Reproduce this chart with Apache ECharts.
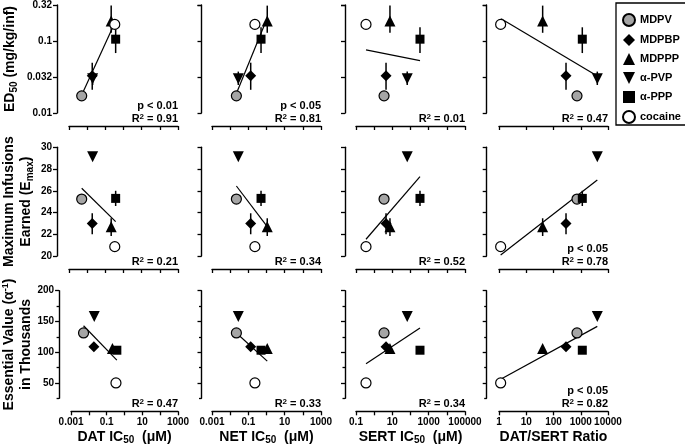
<!DOCTYPE html>
<html><head><meta charset="utf-8">
<script src="https://cdn.jsdelivr.net/npm/echarts@6/dist/echarts.min.js"></script>
<style>html,body{margin:0;padding:0;background:#fff}#c{width:685px;height:447px}</style>
</head><body><div id="c"></div>
<script>
// ---------- data ----------
const compounds = ['MDPV', 'MDPBP', 'MDPPP', 'α-PVP', 'α-PPP', 'cocaine'];
const datIC50 = [0.005, 0.019, 0.21, 0.020, 0.37, 0.33];
const netIC50 = [0.022, 0.135, 1.1, 0.028, 0.5, 0.23];
const sertIC50 = [3.5, 4.5, 7.4, 66, 333, 0.355];
const datSertRatio = [728, 288, 40, 4050, 1140, 1.15];

const ed50 = [0.0173, 0.033, 0.19, 0.030, 0.106, 0.17];
const ed50Low = [null, 0.021, 0.13, 0.0245, 0.068, null];
const ed50High = [null, 0.050, 0.31, 0.0376, 0.155, null];

const emax = [25.24, 23.0, 22.7, 29.13, 25.3, 20.86];
const emaxLow = [null, 22.0, 21.84, null, 24.6, null];
const emaxHigh = [null, 23.93, 23.47, null, 26.0, null];

const essentialValue = [131.3, 108.7, 106, 158, 103.2, 50];

// regression line end points [x1, y1, x2, y2] per column
const fitED50 = [[0.005, 0.0178, 0.37, 0.19], [0.022, 0.0187, 1.1, 0.208], [0.355, 0.0754, 333, 0.0535], [1.2, 0.204, 4050, 0.0327]];
const fitEmax = [[0.005, 26.23, 0.37, 23.16], [0.022, 26.44, 1.1, 22.7], [0.355, 21.54, 333, 27.3], [1.15, 20.09, 4050, 27.0]];
const fitEV = [[0.005, 143, 0.37, 87.1], [0.022, 131.3, 1.1, 85.5], [0.355, 81.3, 333, 139.4], [1.15, 56, 4050, 142]];

const statsED50 = [['p < 0.01', 'R² = 0.91'], ['p < 0.05', 'R² = 0.81'], ['', 'R² = 0.01'], ['', 'R² = 0.47']];
const statsEmax = [['', 'R² = 0.21'], ['', 'R² = 0.34'], ['', 'R² = 0.52'], ['p < 0.05', 'R² = 0.78']];
const statsEV = [['', 'R² = 0.47'], ['', 'R² = 0.33'], ['', 'R² = 0.34'], ['p < 0.05', 'R² = 0.82']];

// tick labels
const ed50Ticks = ['0.01', '0.032', '0.1', '0.32'];
const emaxTicks = ['20', '22', '24', '26', '28', '30'];
const evTicks = ['50', '100', '150', '200'];
const evMinorTicks = ['25', '75', '125', '175'];
const datTicks = ['0.001', '0.1', '10', '1000'];
const netTicks = ['0.001', '0.1', '10', '1000'];
const sertTicks = ['0.1', '10', '1000', '100000'];
const ratioTicks = ['1', '10', '100', '1000', '10000'];

// ---------- layout / style ----------
const F = '"Liberation Sans", Arial, sans-serif';
const colLeft = [69, 212, 356, 499], colW = 109;
const rowTop = [5, 147.3, 290.7], rowH = [108, 108.7, 107.6];
const yOff = [12, 10.5, 11, 12.3];
const xOff = 13;
const symbols = ['circle', 'diamond', 'triangle', 'path://M0,0L10,0L5,10Z', 'rect', 'circle'];
const fills = ['#a5a5a5', '#000', '#000', '#000', '#000', '#fff'];
const sizes = [10, 11, 11, 11, 9, 10];

const xCols = [datIC50, netIC50, sertIC50, datSertRatio];
const xRanges = [[0.001, 1000], [0.001, 1000], [0.1, 100000], [1, 10000]];
const xTickLists = [datTicks, netTicks, sertTicks, ratioTicks];
const xNames = ['{t|DAT IC}{s|50}{t|  (μM)}', '{t|NET IC}{s|50}{t|  (μM)}', '{t|SERT IC}{s|50}{t|  (μM)}', '{t|DAT/SERT Ratio}'];
const yNames = ['{t|ED}{s|50}{t| (mg/kg/inf)}', '{t|Maximum Infusions}\n{t|Earned (E}{s|max}{t|)}', '{t|Essential Value (α}{p|-1}{t|)}\n{t|in Thousands}'];
const yNameGaps = [38, 22, 23];

const RICH = {
  t: {fontFamily: F, fontWeight: 'bold', fontSize: 14, lineHeight: 17, color: '#000'},
  s: {fontFamily: F, fontWeight: 'bold', fontSize: 10, lineHeight: 10, verticalAlign: 'bottom', color: '#000'},
  p: {fontFamily: F, fontWeight: 'bold', fontSize: 9, lineHeight: 9, verticalAlign: 'top', color: '#000'}
};
const STAT_RICH = {
  m: {fontFamily: F, fontWeight: 'bold', fontSize: 11, lineHeight: 13, color: '#000'},
  sup: {fontFamily: F, fontWeight: 'bold', fontSize: 8, lineHeight: 8, verticalAlign: 'top', color: '#000'}
};
function statRich(s) {
  const parts = s.split('²');
  return parts.length === 2 ? '{m|' + parts[0] + '}{sup|2}{m|' + parts[1] + '}' : '{m|' + s + '}';
}

function pickLog(list, v) {
  for (const s of list) {
    if (Math.abs(Math.log10(parseFloat(s)) - Math.log10(v)) < 0.03) return s;
  }
  return '';
}
function pickLin(list, v) {
  for (const s of list) { if (Math.abs(parseFloat(s) - v) < 1e-6) return s; }
  return '';
}

const rowDefs = [
  {vals: ed50, lo: ed50Low, hi: ed50High, fits: fitED50, stats: statsED50},
  {vals: emax, lo: emaxLow, hi: emaxHigh, fits: fitEmax, stats: statsEmax},
  {vals: essentialValue, lo: null, hi: null, fits: fitEV, stats: statsEV}
];

const axisLine = {show: true, lineStyle: {color: '#000', width: 1.4}};
const labelStyle = {fontFamily: F, fontWeight: 'bold', fontSize: 10, color: '#000'};

const option = {
  animation: false,
  backgroundColor: '#fff',
  textStyle: {fontFamily: F},
  grid: [], xAxis: [], yAxis: [], series: [], graphic: [],
  legend: {
    orient: 'vertical', left: 616, top: 3, padding: [10, 6, 1, 6], itemGap: 7,
    itemWidth: 12, itemHeight: 12, borderColor: '#000', borderWidth: 1.3,
    selectedMode: false,
    textStyle: {fontFamily: F, fontWeight: 'bold', fontSize: 11, color: '#000'},
    data: compounds.map((n, i) => ({name: n, icon: symbols[i]}))
  }
};

for (let r = 0; r < 3; r++) {
  const rd = rowDefs[r];
  const xAxisY = rowTop[r] + rowH[r] + xOff;
  for (let c = 0; c < 4; c++) {
    const g = r * 4 + c;
    option.grid.push({left: colLeft[c], top: rowTop[r], width: colW, height: rowH[r]});
    option.xAxis.push({
      gridIndex: g, type: 'log', logBase: 10, min: xRanges[c][0], max: xRanges[c][1],
      splitNumber: 10, offset: xOff,
      axisLine: axisLine, axisTick: {show: true, length: 4, lineStyle: {color: '#000', width: 1.3}},
      axisLabel: {show: r === 2, margin: 6, ...labelStyle, showMinLabel: true, showMaxLabel: true,
        formatter: (v) => pickLog(xTickLists[c], v)},
      splitLine: {show: false},
      name: r === 2 ? xNames[c] : '', nameLocation: 'middle', nameGap: 17,
      nameTextStyle: {rich: RICH}
    });
    let ya = {
      gridIndex: g, position: 'left', offset: yOff[c], axisLine: axisLine,
      axisTick: {show: true, length: 4, lineStyle: {color: '#000', width: 1.3}},
      splitLine: {show: false},
      name: c === 0 ? yNames[r] : '', nameLocation: 'middle', nameRotate: 90, nameGap: yNameGaps[r],
      nameTextStyle: {rich: RICH}
    };
    if (r === 0) {
      Object.assign(ya, {type: 'log', logBase: Math.sqrt(10), min: 0.01, max: Math.pow(10, -0.5), splitNumber: 10,
        axisLabel: {show: c === 0, margin: 5, ...labelStyle, formatter: (v) => pickLog(ed50Ticks, v)}});
    } else if (r === 1) {
      Object.assign(ya, {type: 'value', min: 20, max: 30, interval: 2,
        axisLabel: {show: c === 0, margin: 5, ...labelStyle, formatter: (v) => pickLin(emaxTicks, v)}});
    } else {
      Object.assign(ya, {type: 'value', min: 25, max: 200, interval: 25,
        axisTick: {show: true, length: 4, customValues: evTicks.map(Number), lineStyle: {color: '#000', width: 1.3}},
        axisLabel: {show: c === 0, margin: 5, ...labelStyle, customValues: evTicks.map(Number), formatter: (v) => pickLin(evTicks, v)}});
    }
    option.yAxis.push(ya);

    // error bars
    if (rd.lo) {
      const eb = [];
      for (let i = 0; i < 6; i++) if (rd.lo[i] != null) eb.push([xCols[c][i], rd.lo[i], rd.hi[i]]);
      option.series.push({
        type: 'custom', xAxisIndex: g, yAxisIndex: g, z: 1, silent: true, clip: false,
        encode: {x: 0, y: [1, 2]}, data: eb,
        renderItem: (params, api) => {
          const p1 = api.coord([api.value(0), api.value(1)]);
          const p2 = api.coord([api.value(0), api.value(2)]);
          return {type: 'line', shape: {x1: p1[0], y1: p1[1], x2: p2[0], y2: p2[1]},
            style: {stroke: '#000', lineWidth: 1.5}};
        }
      });
    }
    // regression line
    const f = rd.fits[c];
    option.series.push({
      type: 'line', xAxisIndex: g, yAxisIndex: g, z: 2, silent: true, symbol: 'none',
      data: [[f[0], f[1]], [f[2], f[3]]], lineStyle: {color: '#000', width: 1.2}
    });
    // points
    for (let i = 0; i < 6; i++) {
      option.series.push({
        type: 'scatter', name: compounds[i], xAxisIndex: g, yAxisIndex: g, z: 3 + i, clip: false,
        symbol: symbols[i], symbolSize: sizes[i],
        itemStyle: {color: fills[i], borderColor: '#000', borderWidth: (i === 0 || i === 5) ? 1.2 : 0, opacity: 1},
        data: [[xCols[c][i], rd.vals[i]]]
      });
    }
    // stats text
    const right = colLeft[c] + colW;
    const rY = xAxisY - 7;
    option.graphic.push({type: 'text', x: right, y: rY, z: 50,
      style: {text: statRich(rd.stats[c][1]), rich: STAT_RICH, textAlign: 'right', textVerticalAlign: 'middle', font: 'bold 11px ' + F, fill: '#000'}});
    if (rd.stats[c][0]) {
      option.graphic.push({type: 'text', x: right, y: rY - 13.5, z: 50,
        style: {text: rd.stats[c][0], textAlign: 'right', textVerticalAlign: 'middle', font: 'bold 11px ' + F, fill: '#000'}});
    }
  }
}
// minor ticks for the essential value axes
for (let c = 0; c < 4; c++) {
  option.yAxis.push({
    gridIndex: 8 + c, type: 'value', position: 'left', min: 25, max: 200, interval: 25, offset: yOff[c],
    axisLine: {show: false}, splitLine: {show: false}, axisLabel: {show: false},
    axisTick: {show: true, length: 2.5, customValues: evMinorTicks.map(Number), lineStyle: {color: '#000', width: 1.3}}
  });
}

const chart = echarts.init(document.getElementById('c'), null, {renderer: 'canvas'});
chart.setOption(option);
</script>
</body></html>
